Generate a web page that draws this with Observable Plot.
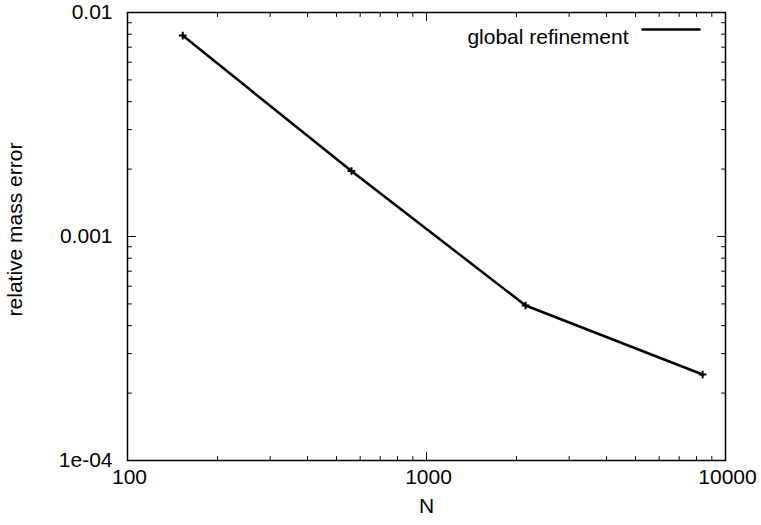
<!DOCTYPE html>
<html>
<head>
<meta charset="utf-8">
<script src="https://cdn.jsdelivr.net/npm/d3@7"></script>
<script src="https://cdn.jsdelivr.net/npm/@observablehq/plot@0.6"></script>
<style>
  html, body { margin: 0; padding: 0; background: #fff; }
  svg { display: block; }
</style>
</head>
<body>
<div id="chart"></div>
<script>
// Data
const N = [153, 561, 2145, 8385];
const relMassError = [0.00789, 0.00196, 0.000492, 0.000242];
const seriesName = "global refinement";

// Axis ticks
const xMajorTicks = [100, 1000, 10000];
const xTickLabels = ["100", "1000", "10000"];
const xMinorTicks = [200, 300, 400, 500, 600, 700, 800, 900, 2000, 3000, 4000, 5000, 6000, 7000, 8000, 9000];
const yMajorTicks = [0.0001, 0.001, 0.01];
const yTickLabels = ["1e-04", "0.001", "0.01"];
const yMinorTicks = [0.0002, 0.0003, 0.0004, 0.0005, 0.0006, 0.0007, 0.0008, 0.0009, 0.002, 0.003, 0.004, 0.005, 0.006, 0.007, 0.008, 0.009];

const data = N.map((n, i) => ({N: n, err: relMassError[i]}));
const font = "'Liberation Sans', Arial, Helvetica, sans-serif";
const fs = 21;

const tickShape = {draw(ctx, l) { ctx.moveTo(0, 0); ctx.lineTo(0, -l); }};
function ticks(values, chan, anchor, rotate, len) {
  const o = {frameAnchor: anchor, rotate, length: len, anchor: "start", shape: tickShape, stroke: "#000", strokeWidth: 1};
  o[chan] = d => d;
  return Plot.vector(values, o);
}

const chart = Plot.plot({
  width: 761,
  height: 525,
  marginLeft: 127,
  marginRight: 36,
  marginTop: 12,
  marginBottom: 65,
  style: {fontFamily: font, fontSize: fs + "px", color: "#000", background: "#fff"},
  x: {type: "log", domain: [100, 10000], axis: null},
  y: {type: "log", domain: [0.0001, 0.01], axis: null},
  marks: [
    // ticks inside frame (gnuplot style, mirrored)
    ticks(xMajorTicks, "x", "bottom", 0, 8),
    ticks(xMajorTicks, "x", "top", 180, 8),
    ticks(xMinorTicks, "x", "bottom", 0, 4),
    ticks(xMinorTicks, "x", "top", 180, 4),
    ticks(yMajorTicks, "y", "left", 90, 8),
    ticks(yMajorTicks, "y", "right", -90, 8),
    ticks(yMinorTicks, "y", "left", 90, 4),
    ticks(yMinorTicks, "y", "right", -90, 4),
    // tick labels
    Plot.text(xMajorTicks, {x: d => d, frameAnchor: "bottom", dy: 23, dx: 2, textAnchor: "middle", text: (d, i) => xTickLabels[i], fontSize: fs, fill: "#000"}),
    Plot.text(yMajorTicks, {y: d => d, frameAnchor: "left", dx: -15, textAnchor: "end", text: (d, i) => yTickLabels[i], fontSize: fs, fill: "#000"}),
    // axis titles
    Plot.text(["N"], {frameAnchor: "bottom", dy: 52, dx: 0, textAnchor: "middle", text: d => d, fontSize: fs, fill: "#000"}),
    Plot.text(["relative mass error"], {frameAnchor: "left", dx: -112, dy: -7, rotate: -90, textAnchor: "middle", text: d => d, fontSize: fs, fill: "#000"}),
    // series
    Plot.line(data, {x: "N", y: "err", stroke: "#000", strokeWidth: 2.5}),
    Plot.dot(data, {x: "N", y: "err", symbol: "plus", r: 2.6, stroke: "#000", strokeWidth: 2}),
    // legend
    Plot.text([seriesName], {frameAnchor: "top-right", dx: -97, dy: 17, textAnchor: "end", text: d => d, fontSize: fs, fill: "#000"}),
    Plot.vector([seriesName], {frameAnchor: "top-right", dx: -83, dy: 17, rotate: 90, length: 57, anchor: "start", shape: tickShape, stroke: "#000", strokeWidth: 2.5}),
    Plot.frame({stroke: "#000", strokeWidth: 1.5})
  ]
});
document.getElementById("chart").appendChild(chart);
</script>
</body>
</html>
